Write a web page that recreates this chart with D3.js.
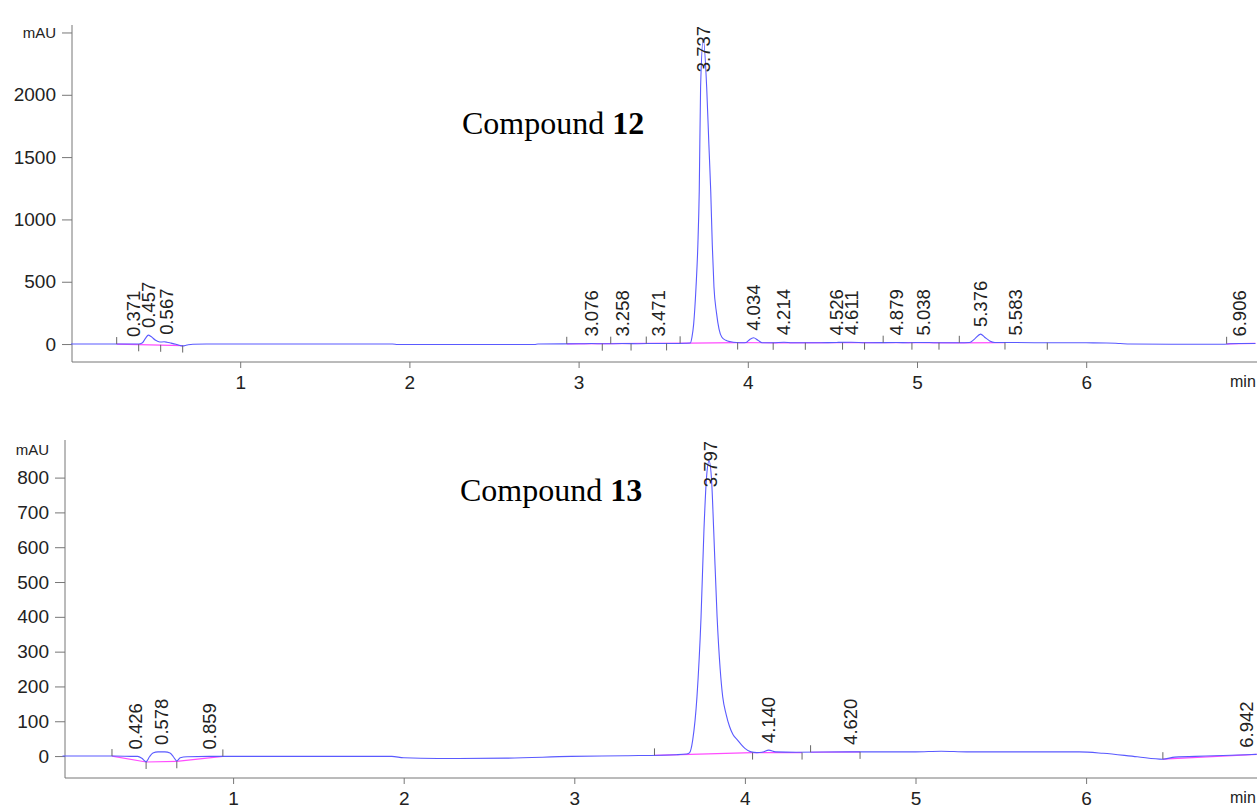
<!DOCTYPE html>
<html lang="en">
<head>
<meta charset="UTF-8">
<title>HPLC chromatograms - compounds 12 and 13</title>
<script src="https://d3js.org/d3.v7.min.js"></script>
<style>
  body { margin: 0; background: #fff; }
  svg { display: block; }
  .tick text, .axlab { font-family: "Liberation Sans", Arial, sans-serif; fill: #222; }
  .peak { font-family: "Liberation Sans", Arial, sans-serif; font-size: 18.5px; fill: #222; }
  .cmpd { font-family: "Liberation Serif", "Times New Roman", serif; font-size: 32px; fill: #000; }
</style>
</head>
<body>
<svg width="1257" height="809"></svg>
<script>
// ---- data (time in min, signal in mAU) ----
const trace12 = [
  [0.00,0],[0.30,0],[0.371,1],[0.40,0],[0.42,8],[0.44,45],[0.457,72],[0.475,58],[0.50,30],[0.525,16],
  [0.55,18],[0.567,15],[0.59,8],[0.62,-2],[0.645,-12],[0.66,-15],[0.685,-8],[0.72,-1],[0.80,0],
  [1.00,0],[1.50,0],[1.90,0],[1.93,-3],[2.30,-4],[2.74,-3],[2.76,1],[3.00,2],[3.076,4],[3.15,2],
  [3.258,4],[3.35,3],[3.471,5],[3.55,4],[3.63,6],[3.66,8],[3.670,56],[3.680,160],[3.694,457],
  [3.705,800],[3.713,1225],[3.721,2060],[3.737,2450],[3.757,2060],[3.770,1600],[3.781,1225],
  [3.790,800],[3.800,457],[3.815,250],[3.830,120],[3.846,56],[3.87,30],[3.90,18],[3.934,12],
  [3.97,10],[3.99,12],[4.01,35],[4.034,50],[4.06,30],[4.085,11],[4.15,10],[4.214,14],[4.26,11],
  [4.40,10],[4.526,13],[4.611,14],[4.70,11],[4.879,12],[4.95,11],[5.038,13],[5.10,11],[5.25,10],
  [5.31,12],[5.34,40],[5.376,80],[5.40,55],[5.43,25],[5.46,13],[5.583,12],[5.70,11],[6.00,10],
  [6.12,9],[6.20,4],[6.26,0],[6.50,-1],[6.81,-1],[6.85,2],[6.906,4],[7.00,5]
];
const trace13 = [
  [0.00,0],[0.30,0],[0.426,-1],[0.44,-1],[0.465,-6],[0.49,-16],[0.51,-2],[0.53,9],[0.56,12],[0.60,12],
  [0.63,9],[0.65,-2],[0.67,-14],[0.69,-5],[0.73,-2],[0.859,-1],[0.90,-1],[1.50,-1],[1.93,-1],[2.00,-5],
  [2.20,-7],[2.60,-6],[2.98,-1],[3.30,1],[3.60,4],[3.66,6],[3.675,9],[3.694,46],[3.719,170],
  [3.743,400],[3.760,650],[3.775,800],[3.790,848],[3.805,790],[3.817,650],[3.837,400],
  [3.855,250],[3.870,170],[3.89,120],[3.91,85],[3.93,62],[3.957,46],[3.98,32],[4.00,22],
  [4.036,12],[4.07,10],[4.10,11],[4.14,17],[4.18,12],[4.30,11],
  [4.62,12],[5.00,12],[5.15,14],[5.30,12],[5.96,12],[6.10,8],[6.30,-2],[6.45,-9],[6.52,-3],
  [6.70,0],[6.942,4],[7.00,5]
];

const rt12 = [0.371,0.457,0.567,3.076,3.258,3.471,3.737,4.034,4.214,4.526,4.611,4.879,5.038,5.376,5.583,6.906];
const rt13 = [0.426,0.578,0.859,3.797,4.140,4.620,6.942];

// integration baselines (pink) and event marks [time, mAU, direction]
const base12 = [
  [[0.27,0],[0.66,-12]], [[2.93,2],[3.66,8]], [[3.66,8],[3.94,12]], [[3.94,11],[4.15,10]],
  [[4.15,10],[4.56,11]], [[4.56,11],[4.97,11]], [[4.97,11],[5.25,10]], [[5.25,10],[5.52,12]],
  [[6.83,2],[7.00,5]]
];
const base13 = [
  [[0.29,0],[0.49,-17]], [[0.49,-17],[0.67,-15]], [[0.67,-15],[0.94,-1]],
  [[3.47,2],[4.045,10]], [[4.045,10],[4.335,10]], [[4.385,11],[4.675,12]], [[6.45,-9],[7.00,5]]
];
const marks12 = [
  [0.27,0,1],[0.40,-2,-1],[0.53,-6,-1],[0.66,-12,-1],[2.93,2,1],[3.14,3,-1],[3.19,3,1],
  [3.31,4,-1],[3.40,4,1],[3.52,5,-1],[3.60,6,1],[3.94,12,-1],[4.15,10,-1],[4.34,10,-1],
  [4.56,11,-1],[4.69,11,-1],[4.80,11,1],[4.97,11,-1],[5.13,11,-1],[5.25,10,1],[5.52,12,-1],
  [5.77,11,-1],[6.83,2,1]
];
const marks13 = [
  [0.29,0,1],[0.49,-17,-1],[0.67,-15,-1],[0.94,-1,1],[3.47,2,1],[4.045,10,-1],
  [4.335,10,-1],[4.385,11,1],[4.675,12,-1],[6.45,-9,1]
];

const yMajor12 = [0,500,1000,1500,2000,2500];
const yMinor12 = d3.range(-100, 2501, 100);
const yMajor13 = [0,100,200,300,400,500,600,700,800];
const yMinor13 = d3.range(-60, 901, 20);
const xMajor = [1,2,3,4,5,6];
const xMinor = d3.range(0.2, 7.01, 0.2);

const svg = d3.select("svg");

function panel(o) {
  const g = svg.append("g");
  const x = d3.scaleLinear().domain([0, 7]).range(o.xr);
  const y = d3.scaleLinear().domain(o.yd).range(o.yr);
  const x0 = o.axisX, yb = o.yr[0], yt = o.yr[1];

  // y axis
  const ya = g.append("g").attr("transform", `translate(${x0},0)`);
  ya.call(d3.axisLeft(y).tickValues(o.yMinor).tickSize(6).tickFormat(""));
  ya.call(d3.axisLeft(y).tickValues(o.yMajor).tickSize(10).tickPadding(6)
      .tickFormat(d => d === o.mauAt ? "mAU" : d));
  ya.selectAll(".domain").remove();
  ya.selectAll(".tick text").style("font-size", d => d === o.mauAt ? "15px" : "19px");
  // x axis
  const xa = g.append("g").attr("transform", `translate(0,${yb})`);
  xa.call(d3.axisBottom(x).tickValues(xMinor).tickSize(6).tickFormat(""));
  xa.call(d3.axisBottom(x).tickValues(xMajor).tickSize(6).tickPadding(8).tickFormat(d3.format("d")));
  xa.selectAll(".domain").remove();
  xa.selectAll(".tick text").style("font-size", "19px");
  g.selectAll(".tick line").attr("stroke", "#777");

  g.append("path").attr("fill", "none").attr("stroke", "#777")
    .attr("d", `M${x0},${yt}V${yb}H1257`);
  if (o.mauExtra != null) {
    g.append("text").attr("class", "axlab").attr("x", x0 - 16).attr("y", y(o.mauExtra))
      .attr("dy", "0.35em").attr("text-anchor", "end").style("font-size", "15px").text("mAU");
  }
  g.append("text").attr("class", "axlab").attr("x", 1230).attr("y", yb + 14)
    .attr("dy", "0.71em").style("font-size", "16px").text("min");

  // integration baselines
  const ln = d3.line().x(d => x(d[0])).y(d => y(d[1]));
  g.selectAll(".bl").data(o.base).join("path")
    .attr("fill", "none").attr("stroke", "#ff4dff").attr("stroke-width", 1.2).attr("d", ln);

  // signal
  g.append("path").datum(o.trace)
    .attr("fill", "none").attr("stroke", "#5a5aff").attr("stroke-width", 1.1)
    .attr("d", d3.line().curve(d3.curveMonotoneX).x(d => x(d[0])).y(d => y(d[1])));

  // event marks
  g.selectAll(".mk").data(o.marks).join("line")
    .attr("x1", d => x(d[0])).attr("x2", d => x(d[0]))
    .attr("y1", d => y(d[1])).attr("y2", d => y(d[1]) - d[2] * 7)
    .attr("stroke", "#666").attr("stroke-width", 1);

  // retention time labels, sat on the local maximum of the trace
  o.rt.forEach(t => {
    const near = o.trace.filter(p => Math.abs(p[0] - t) <= 0.025);
    const v = near.length ? d3.max(near, p => p[1]) : 0;
    const lab = g.append("text").attr("class", "peak").attr("text-anchor", "start")
      .attr("dy", "0.35em").text(t.toFixed(3));
    const len = lab.node().getComputedTextLength();
    let yy = y(v) - 7;
    if (yy - len < yt + 1) yy = yt + 1 + len;
    lab.attr("transform", `translate(${x(t)},${yy}) rotate(-90)`);
  });

  // compound caption
  const cap = g.append("text").attr("class", "cmpd").attr("x", o.cap[0]).attr("y", o.cap[1]);
  cap.append("tspan").text("Compound ");
  cap.append("tspan").attr("font-weight", "bold").text(o.num);
}

panel({
  trace: trace12, rt: rt12, base: base12, marks: marks12,
  xr: [71, 1255.4], yd: [-144, 2560], yr: [362, 25], axisX: 72,
  yMajor: yMajor12, yMinor: yMinor12, mauAt: 2500, mauExtra: null,
  cap: [462, 134], num: "12"
});
panel({
  trace: trace13, rt: rt13, base: base13, marks: marks13,
  xr: [62.5, 1256.7], yd: [-63, 908], yr: [778, 440], axisX: 65,
  yMajor: yMajor13, yMinor: yMinor13, mauAt: null, mauExtra: 880,
  cap: [460, 501], num: "13"
});
</script>
</body>
</html>
